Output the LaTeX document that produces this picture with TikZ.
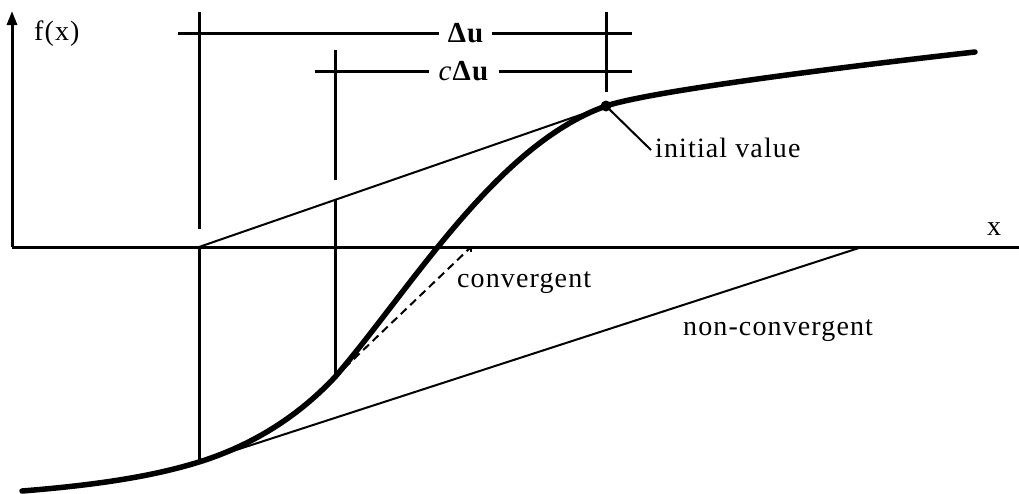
\documentclass[tikz,border=0pt]{standalone}
\usepackage{fontspec}
\setmainfont{Liberation Serif}[LetterSpace=4]
\usetikzlibrary{arrows.meta}
\begin{document}
\begin{tikzpicture}[x=1pt,y=-1pt,
  axisline/.style={line width=3pt},
  dimline/.style={line width=3pt},
  thinline/.style={line width=2pt},
  dashline/.style={line width=2pt, dash pattern=on 8pt off 5pt},
  curveline/.style={line width=5.5pt, line cap=round},
  lbl/.style={font=\fontsize{28}{32}\selectfont, inner sep=0pt},
  dimlbl/.style={font=\fontsize{29}{32}\selectfont, inner xsep=9pt, inner ysep=0pt},
]
\useasboundingbox (0,0) rectangle (1019,493);

% key points
\coordinate (O) at (12,247);
\coordinate (Ytop) at (12,11);
\coordinate (Xend) at (1034,247);
\coordinate (S) at (22,491);
\coordinate (A0) at (199,247);
\coordinate (P0) at (199,462);
\coordinate (T1) at (335,199);
\coordinate (P1) at (335,377);
\coordinate (Pinit) at (606,106);
\coordinate (E) at (975,52);
\coordinate (X1) at (862,247);
\coordinate (Xc) at (471,247);
\coordinate (Lead) at (651,150);

% axes
\draw[axisline,-{Triangle[length=14pt,width=10pt]}] (O) -- (Ytop);
\draw[axisline,-{Triangle[length=14pt,width=10pt]}] (O) -- (Xend);
\node[lbl, anchor=base west] (fx) at (34,40) {f(x)};
\node[lbl, anchor=base west] (xl) at (987,235) {x};

% curve
\draw[curveline] (S) .. controls (110,484) and (160,474) .. (P0)
  .. controls (244,448) and (293,422) .. (P1)
  .. controls (410,290) and (496,145) .. (Pinit)
  .. controls (650,91) and (850,66) .. (E);

% tangents
\draw[thinline] (A0) -- (Pinit);
\draw[thinline] (P0) -- (X1);
\draw[dashline] (P1) -- (Xc);
\draw[line width=2pt] (Xc) -- ++(0,5);

% vertical lines
\draw[dimline] (199,12) -- (199,229);
\draw[dimline] (A0) -- (P0);
\draw[dimline] (335,50) -- (335,180);
\draw[dimline] (T1) -- (P1);
\draw[dimline] (606,12) -- (606,92);

% dimension lines
\node[dimlbl] (du) at (465.5,33) {\bfseries Δu};
\draw[dimline] (178,33) -- (du.west);
\draw[dimline] (du.east) -- (632,33);
\node[dimlbl] (cdu) at (464,71) {\textit{c}\textbf{Δu}};
\draw[dimline] (315,71) -- (cdu.west);
\draw[dimline] (cdu.east) -- (632,71);

% initial value
\fill (Pinit) circle (5.5);
\draw[thinline] (Pinit) -- (Lead);
\node[lbl, anchor=base west] (iv) at (655,157) {initial value};

% labels
\node[lbl, anchor=base west] (conv) at (457,287) {convergent};
\node[lbl, anchor=base west] (nconv) at (683,335) {non-convergent};
\end{tikzpicture}
\end{document}
